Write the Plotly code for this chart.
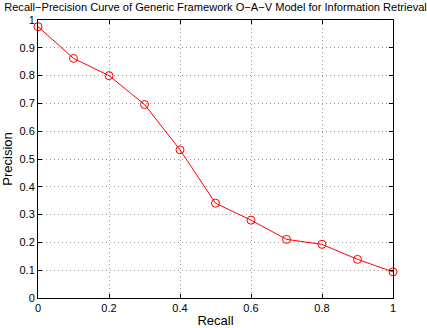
import plotly.graph_objects as go

recall = [0, 0.1, 0.2, 0.3, 0.4, 0.5, 0.6, 0.7, 0.8, 0.9, 1.0]
precision = [0.976, 0.862, 0.800, 0.696, 0.533, 0.341, 0.280, 0.211, 0.193, 0.139, 0.094]
x_ticks = [0, 0.2, 0.4, 0.6, 0.8, 1]
y_ticks = [0, 0.1, 0.2, 0.3, 0.4, 0.5, 0.6, 0.7, 0.8, 0.9, 1]

FONT = "Liberation Sans, Arial, Helvetica, sans-serif"

fig = go.Figure()
fig.add_trace(go.Scatter(
    x=recall, y=precision, mode="lines+markers",
    line=dict(color="#ff0000", width=1),
    marker=dict(symbol="circle-open", size=8, color="#ff0000", line=dict(width=1)),
    showlegend=False, cliponaxis=False,
))

axis_common = dict(
    showline=True, linecolor="black", linewidth=1, mirror="ticks",
    ticks="inside", ticklen=4, tickcolor="black",
    showgrid=True, gridcolor="#9a9a9a", gridwidth=1, griddash="1px,3px",
    zeroline=False, automargin=False,
    tickfont=dict(family=FONT, size=11, color="black"),
)

fig.update_layout(
    width=427, height=328,
    margin=dict(l=38, r=34, t=20, b=30),
    paper_bgcolor="white", plot_bgcolor="white",
    title=dict(text="Recall\u2212Precision Curve of Generic Framework O\u2212A\u2212V Model for Information Retrieval",
               font=dict(family=FONT, size=11.1, color="black"),
               xref="paper", x=0.5, xanchor="center",
               yref="container", y=0.978, yanchor="middle", automargin=False),
    xaxis=dict(range=[0, 1], tickvals=x_ticks, ticktext=[str(v) for v in x_ticks],
               title=dict(text="Recall", font=dict(family=FONT, size=13, color="black"), standoff=2),
               **axis_common),
    yaxis=dict(range=[0, 1], tickvals=y_ticks, ticktext=[str(v) for v in y_ticks],
               title=dict(text="Precision", font=dict(family=FONT, size=13, color="black"), standoff=4),
               **axis_common),
)

fig.write_html("out.html", config={"displayModeBar": False},
               post_script="document.body.style.margin='0';")
